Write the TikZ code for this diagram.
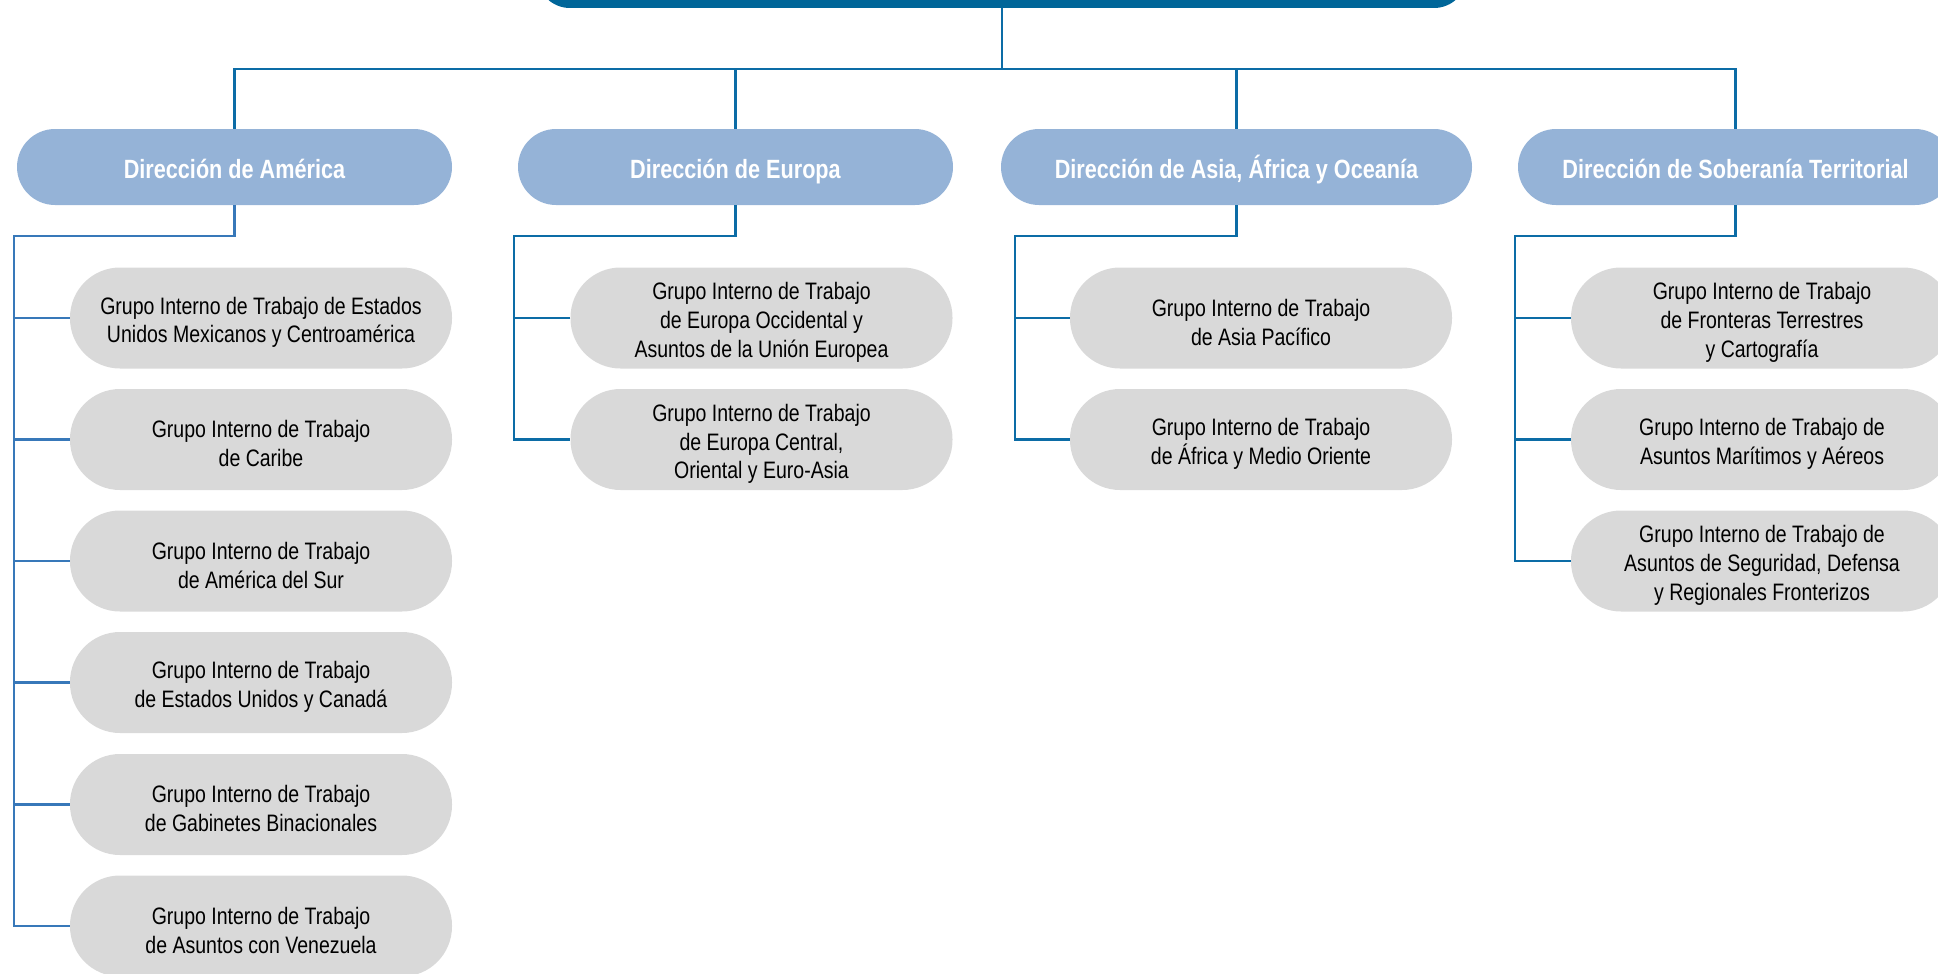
\documentclass[tikz,border=0pt]{standalone}
\usepackage{fontspec}
\setmainfont{Liberation Sans}[FakeStretch=0.82]
\newcommand\toplift{\rule{0pt}{26pt}}
\begin{document}
\begin{tikzpicture}[x=1pt,y=-1pt,
  topbox/.style={fill=topblue, draw=none, rounded corners=33pt, minimum width=930pt, minimum height=60pt, inner sep=0pt},
  headbox/.style={fill=headblue, draw=none, rounded corners=38pt, minimum width=435pt, minimum height=76pt, inner sep=0pt,
    text=white, font=\fontsize{26.4}{30}\selectfont\bfseries, text height=25pt, text depth=2pt},
  childbox/.style={fill=childgray, draw=none, rounded corners=50pt, minimum width=382pt, minimum height=101pt, inner sep=0pt,
    align=center, text=black, font=\fontsize{23.8}{28.8}\selectfont},
  link/.style={draw=linecol, line width=2.3pt},
  amlink/.style={draw=amlinecol, line width=2.3pt},
  buslink/.style={draw=linecol, line width=2.6pt}]
\definecolor{topblue}{RGB}{0,102,153}
\definecolor{headblue}{RGB}{149,179,215}
\definecolor{childgray}{RGB}{217,217,217}
\definecolor{linecol}{RGB}{12,108,166}
\definecolor{amlinecol}{RGB}{56,120,185}
\useasboundingbox (0,0) rectangle (1938,974);
\clip (0,0) rectangle (1938,974);

% top box
\node[topbox] (T) at (1002,-22) {};

% headers
\node[headbox] (H1) at (234.5,167) {Dirección de América};
\node[headbox] (H2) at (735.5,167) {Dirección de Europa};
\node[headbox, minimum width=471pt] (H3) at (1236.5,167) {Dirección de Asia, África y Oceanía};
\node[headbox] (H4) at (1735.5,167) {Dirección de Soberanía Territorial};

% America children
\node[childbox] (A1) at (261,318) {\toplift Grupo Interno de Trabajo de Estados\\Unidos Mexicanos y Centroamérica};
\node[childbox] (A2) at (261,439.5) {\toplift Grupo Interno de Trabajo\\de Caribe};
\node[childbox] (A3) at (261,561) {\toplift Grupo Interno de Trabajo\\de América del Sur};
\node[childbox] (A4) at (261,682.5) {\toplift Grupo Interno de Trabajo\\de Estados Unidos y Canadá};
\node[childbox] (A5) at (261,804.5) {\toplift Grupo Interno de Trabajo\\de Gabinetes Binacionales};
\node[childbox] (A6) at (261,926) {\toplift Grupo Interno de Trabajo\\de Asuntos con Venezuela};

% Europa children
\node[childbox] (E1) at (761.5,318) {\toplift Grupo Interno de Trabajo\\de Europa Occidental y\\Asuntos de la Unión Europea};
\node[childbox] (E2) at (761.5,439.5) {\toplift Grupo Interno de Trabajo\\de Europa Central,\\Oriental y Euro-Asia};

% Asia children
\node[childbox] (S1) at (1261,318) {\toplift Grupo Interno de Trabajo\\de Asia Pacífico};
\node[childbox] (S2) at (1261,439.5) {\toplift Grupo Interno de Trabajo\\de África y Medio Oriente};

% Soberania children
\node[childbox] (T1) at (1762,318) {\toplift Grupo Interno de Trabajo\\de Fronteras Terrestres\\y Cartografía};
\node[childbox] (T2) at (1762,439.5) {\toplift Grupo Interno de Trabajo de\\Asuntos Marítimos y Aéreos};
\node[childbox] (T3) at (1762,561) {\toplift Grupo Interno de Trabajo de\\Asuntos de Seguridad, Defensa\\y Regionales Fronterizos};

% top bus
\coordinate (busy) at (0,69);
\draw[buslink] (T.south) -- (T.south |- busy);
\draw[buslink] (H1.north) -- (H1.north |- busy) -- (H4.north |- busy) -- (H4.north);
\draw[buslink] (H2.north) -- (H2.north |- busy);
\draw[buslink] (H3.north) -- (H3.north |- busy);

% America tree
\coordinate (a0) at (14,236);
\draw[amlink] (H1.south) |- (a0) -- (a0 |- A6.west) -- (A6.west);
\foreach \c in {A1,A2,A3,A4,A5} \draw[amlink] (\c.west) -- (\c.west -| a0);

% Europa tree
\coordinate (e0) at (514,236);
\draw[link] (H2.south) |- (e0) -- (e0 |- E2.west) -- (E2.west);
\draw[link] (E1.west) -- (E1.west -| e0);

% Asia tree
\coordinate (s0) at (1015,236);
\draw[link] (H3.south) |- (s0) -- (s0 |- S2.west) -- (S2.west);
\draw[link] (S1.west) -- (S1.west -| s0);

% Soberania tree
\coordinate (t0) at (1515,236);
\draw[link] (H4.south) |- (t0) -- (t0 |- T3.west) -- (T3.west);
\foreach \c in {T1,T2} \draw[link] (\c.west) -- (\c.west -| t0);
\end{tikzpicture}
\end{document}
